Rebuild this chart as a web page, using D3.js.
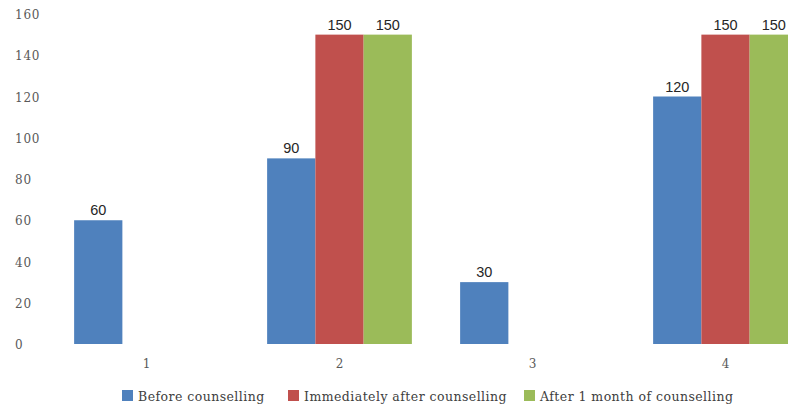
<!DOCTYPE html>
<html><head><meta charset="utf-8">
<script src="https://cdn.jsdelivr.net/npm/d3@7"></script>
<style>body{margin:0;background:#fff;}svg{display:block;}</style>
</head><body>
<svg id="c" width="788" height="407"></svg>
<script>
const categories = ["1", "2", "3", "4"];
const seriesNames = ["Before counselling", "Immediately after counselling", "After 1 month of counselling"];
const before = [60, 90, 30, 120];
const immediately = [null, 150, null, 150];
const afterMonth = [null, 150, null, 150];
const yTicks = [0, 20, 40, 60, 80, 100, 120, 140, 160];
const colors = ["#4F81BD", "#C0504D", "#9BBB59"];

const seriesValues = [before, immediately, afterMonth];
const svg = d3.select("#c");
const x0 = d3.scaleBand().domain(categories).range([50, 822]).paddingInner(0.25).paddingOuter(0.125);
const x1 = d3.scaleBand().domain(seriesNames).range([0, x0.bandwidth()]);
const y = d3.scaleLinear().domain([0, 160]).range([344, 14]);
const serif = "'DejaVu Serif', 'Liberation Serif', serif";

// y axis labels
svg.append("g").selectAll("text").data(yTicks).join("text")
  .attr("x", 15).attr("y", d => y(d) + 5)
  .attr("font-family", serif)
  .attr("font-size", 12).attr("letter-spacing", 0.8).attr("fill", "#595959")
  .text(d => d);

// x axis labels
svg.append("g").selectAll("text").data(categories).join("text")
  .attr("x", d => x0(d) + x0.bandwidth() / 2).attr("y", 368)
  .attr("text-anchor", "middle")
  .attr("font-family", serif)
  .attr("font-size", 12).attr("fill", "#595959")
  .text(d => d);

const bars = [];
categories.forEach((c, i) => seriesNames.forEach((s, j) => {
  const v = seriesValues[j][i];
  if (v != null) bars.push({c, s, v, j});
}));

svg.append("g").selectAll("rect").data(bars).join("rect")
  .attr("x", d => x0(d.c) + x1(d.s))
  .attr("y", d => y(d.v))
  .attr("width", x1.bandwidth())
  .attr("height", d => y(0) - y(d.v))
  .attr("fill", d => colors[d.j]);

svg.append("g").selectAll("text").data(bars).join("text")
  .attr("x", d => x0(d.c) + x1(d.s) + x1.bandwidth() / 2)
  .attr("y", d => y(d.v) - 5)
  .attr("text-anchor", "middle")
  .attr("font-family", "'Liberation Sans', Arial, sans-serif")
  .attr("font-size", 14.5).attr("fill", "#262626")
  .text(d => d.v);

// legend
const legX = [122, 288, 524];
const lg = svg.append("g").selectAll("g").data(seriesNames).join("g")
  .attr("transform", (d, i) => `translate(${legX[i]},390)`);
lg.append("rect").attr("width", 11).attr("height", 11).attr("fill", (d, i) => colors[i]);
lg.append("text").attr("x", 16).attr("y", 10.5)
  .attr("font-family", serif)
  .attr("font-size", 12.5).attr("letter-spacing", 0.45).attr("fill", "#404040")
  .text(d => d);
</script>
</body></html>
